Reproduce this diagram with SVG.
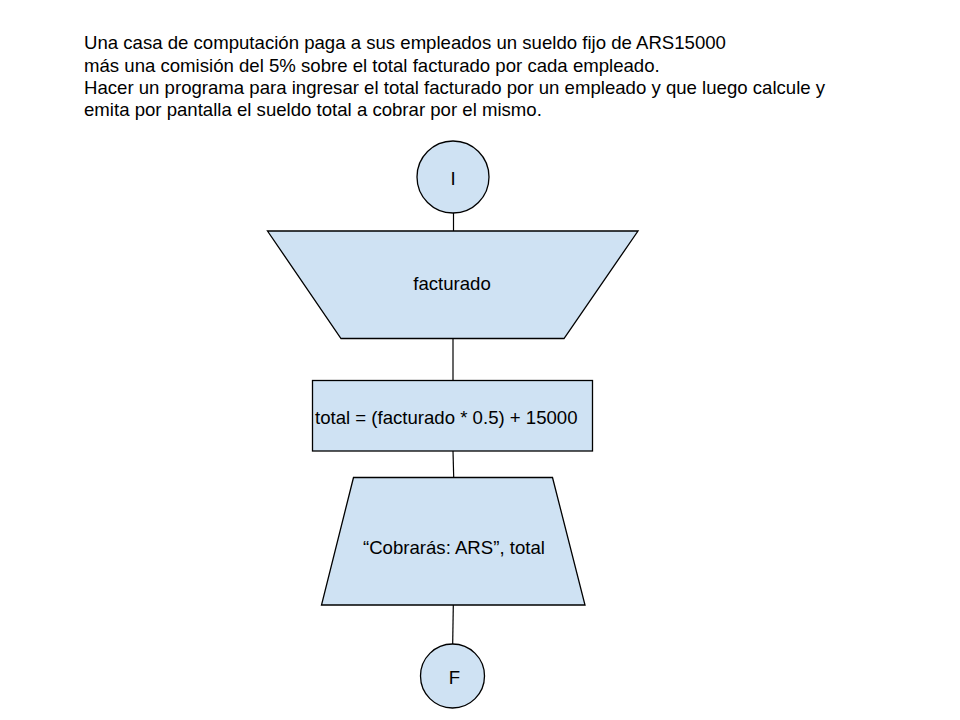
<svg xmlns="http://www.w3.org/2000/svg" width="960" height="720" viewBox="0 0 960 720">
<style>
.shape{fill:#cfe2f3;stroke:#000;stroke-width:1.3}
.conn{stroke:#000;stroke-width:1.2;fill:none}
text{font-family:"Liberation Sans",Arial,sans-serif;font-size:18.6px;fill:#000}
</style>
<rect width="960" height="720" fill="#fff"/>
<g id="title">
<text x="84" y="49">Una casa de computación paga a sus empleados un sueldo fijo de ARS15000</text>
<text x="84" y="71.5">más una comisión del 5% sobre el total facturado por cada empleado.</text>
<text x="84" y="93.5">Hacer un programa para ingresar el total facturado por un empleado y que luego calcule y</text>
<text x="84" y="116">emita por pantalla el sueldo total a cobrar por el mismo.</text>
</g>
<g id="connectors">
<line class="conn" x1="453.5" y1="213" x2="453.5" y2="231"/>
<line class="conn" x1="453" y1="338" x2="453" y2="380"/>
<line class="conn" x1="453" y1="451" x2="453.7" y2="477"/>
<line class="conn" x1="453.3" y1="605" x2="452.7" y2="644"/>
</g>
<g id="start">
<circle class="shape" cx="453" cy="177" r="36"/>
<text x="453" y="184.5" text-anchor="middle">I</text>
</g>
<g id="input">
<polygon class="shape" points="267.5,231 638,231 564,338.5 341,338.5"/>
<text x="452" y="290" text-anchor="middle">facturado</text>
</g>
<g id="process">
<rect class="shape" x="312.5" y="380.5" width="280" height="70.5"/>
<text x="315" y="424">total = (facturado * 0.5) + 15000</text>
</g>
<g id="output">
<polygon class="shape" points="353.5,477.5 552.5,477.5 585,605 321.5,605"/>
<text x="363" y="554">“Cobrarás: ARS”, total</text>
</g>
<g id="end">
<circle class="shape" cx="452.5" cy="676" r="32"/>
<text x="454.5" y="684" text-anchor="middle">F</text>
</g>
</svg>
